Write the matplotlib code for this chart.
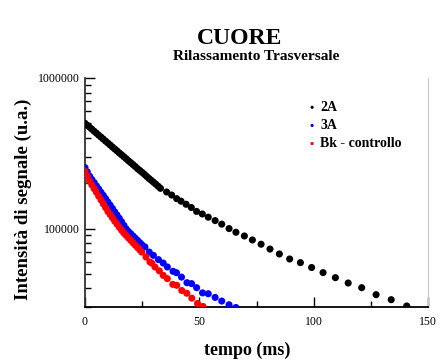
import matplotlib
matplotlib.use('Agg')
import matplotlib.pyplot as plt
from matplotlib.ticker import FixedLocator, LogLocator, NullFormatter, FuncFormatter

# tempo (ms) / intensita (u.a.)
t_2a = [0, 1, 2, 3, 4, 5, 6, 7, 8, 9, 10, 11, 12, 13, 14, 15, 16, 17, 18, 19,
        20, 21, 22, 23, 24, 25, 26, 27, 28, 29, 30, 31, 32, 33, 35.7, 37.9,
        40.1, 42.0, 44.2, 46.5, 48.8, 51.3, 53.9, 56.9, 59.8, 63.0, 66.0, 69.7,
        73.2, 77.0, 80.9, 85.0, 89.5, 94.2, 99.1, 104.1, 109.5, 115.1, 121.0,
        127.3, 133.9, 140.7]
y_2a = [500000, 485000, 471000, 457000, 443000, 430000, 417000, 405000, 393000,
        381000, 370000, 359000, 348000, 338000, 328000, 318000, 309000, 300000,
        291000, 282000, 274000, 266000, 258000, 250000, 243000, 236000, 229000,
        222000, 215000, 209000, 203000, 197000, 191000, 185000, 175000, 167000,
        158000, 152000, 145000, 138000, 130000, 125000, 119000, 113000, 107000,
        100000, 94500, 89300, 84000, 78700, 73100, 67800, 62800, 59400, 55100,
        51000, 47200, 43500, 40500, 36400, 33700, 30600]

t_3a = [0, 1, 2, 3, 4, 5, 6, 7, 8, 9, 10, 11, 12, 13, 14, 15, 16, 17, 18, 19,
        20, 21, 22, 23, 24, 24.8, 26.2, 28.1, 29.9, 32.1, 34.2, 36.0, 38.5,
        40.0, 42.2, 44.6, 46.6, 48.8, 51.4, 53.9, 56.9, 59.8, 63.0, 66.0]
y_3a = [254000, 238000, 223000, 212000, 202000, 192000, 183000, 174000, 166000,
        158000, 150000, 143000, 136000, 129000, 123000, 117000, 111000, 105000,
        99500, 95500, 92500, 89300, 86300, 83400, 80500, 78300, 75500, 69800,
        66400, 62200, 59000, 55600, 52000, 50900, 47600, 43700, 43100, 40500,
        37400, 36900, 34900, 33000, 31200, 29900]

t_bk = [0, 1, 2, 3, 4, 5, 6, 7, 8, 9, 10, 11, 12, 13, 14, 15, 16, 17, 18, 19,
        20, 21, 22, 23, 24, 24.8, 26.7, 28.4, 29.2, 30.6, 32.5, 34.2, 36.0,
        38.4, 40.1, 42.3, 44.5, 46.7, 49.2, 51.6]
y_bk = [240000, 223000, 207000, 195000, 184000, 174000, 164000, 155000, 146000,
        138000, 130000, 124000, 118000, 112000, 107000, 102000, 97500, 93300,
        90000, 86700, 83600, 80500, 77600, 74800, 72100, 69800, 64700, 60000,
        59000, 55600, 52400, 48900, 46500, 42600, 42000, 38800, 37200, 34500,
        31800, 30400]

labels = ['2A', '3A', 'Bk - controllo']
colors = ['black', '#0000ff', '#ff0000']

serif = 'Liberation Serif'

fig = plt.figure(figsize=(4.44, 3.6), dpi=100)
ax = fig.add_axes([85 / 444, 1 - 307.3 / 360, 343 / 444, 229.3 / 360])

for t, y, lab, c in zip([t_2a, t_3a, t_bk], [y_2a, y_3a, y_bk], labels, colors):
    ax.scatter(t, y, s=26, color=c, edgecolors='none', label=lab, zorder=3)

ax.set_yscale('log')
ax.set_xlim(0, 150)
ax.set_ylim(30000, 1000000)

ax.xaxis.set_major_locator(FixedLocator([0, 50, 100, 150]))
ax.xaxis.set_minor_locator(FixedLocator([25, 75, 125]))
ax.yaxis.set_major_locator(FixedLocator([100000, 1000000]))
ax.yaxis.set_minor_locator(LogLocator(base=10, subs=range(2, 10)))
ax.yaxis.set_major_formatter(FuncFormatter(lambda v, p: '%d' % v))
ax.yaxis.set_minor_formatter(NullFormatter())

ax.tick_params(axis='both', which='major', direction='in', length=7, width=1,
               labelsize=8.5, colors='black')
ax.tick_params(axis='both', which='minor', direction='in', length=4, width=1)
ax.tick_params(axis='x', which='major', pad=6)
ax.tick_params(axis='y', which='major', pad=4)
for lab in ax.get_xticklabels() + ax.get_yticklabels():
    lab.set_fontfamily(serif)

ax.spines['top'].set_visible(False)
ax.spines['right'].set_color('#c8c8c8')
ax.spines['left'].set_color('#333333')
ax.spines['left'].set_linewidth(1.3)
ax.spines['bottom'].set_linewidth(1.3)

ax.set_ylabel('Intensità di segnale (u.a.)', fontsize=13.5, fontweight='bold',
              family=serif)
ax.yaxis.set_label_coords(-0.155, 0.472)
ax.set_xlabel('tempo (ms)', fontsize=13, fontweight='bold', family=serif)
ax.xaxis.set_label_coords(0.472, -0.15)

fig.text(240 / 444, 1 - 38.5 / 360, 'CUORE', ha='center', va='center',
         fontsize=17, fontweight='bold', family=serif)
fig.text(256 / 444, 1 - 56 / 360, 'Rilassamento Trasversale', ha='center',
         va='center', fontsize=11, fontweight='bold', family=serif)

ax.legend(loc='upper left', bbox_to_anchor=(0.65, 0.90), frameon=False,
          handlelength=0.6, handletextpad=0.3, labelspacing=0.37,
          borderpad=0, borderaxespad=0, markerscale=0.45,
          prop={'family': serif, 'weight': 'bold', 'size': 10})

fig.savefig('out.png', dpi=100)
